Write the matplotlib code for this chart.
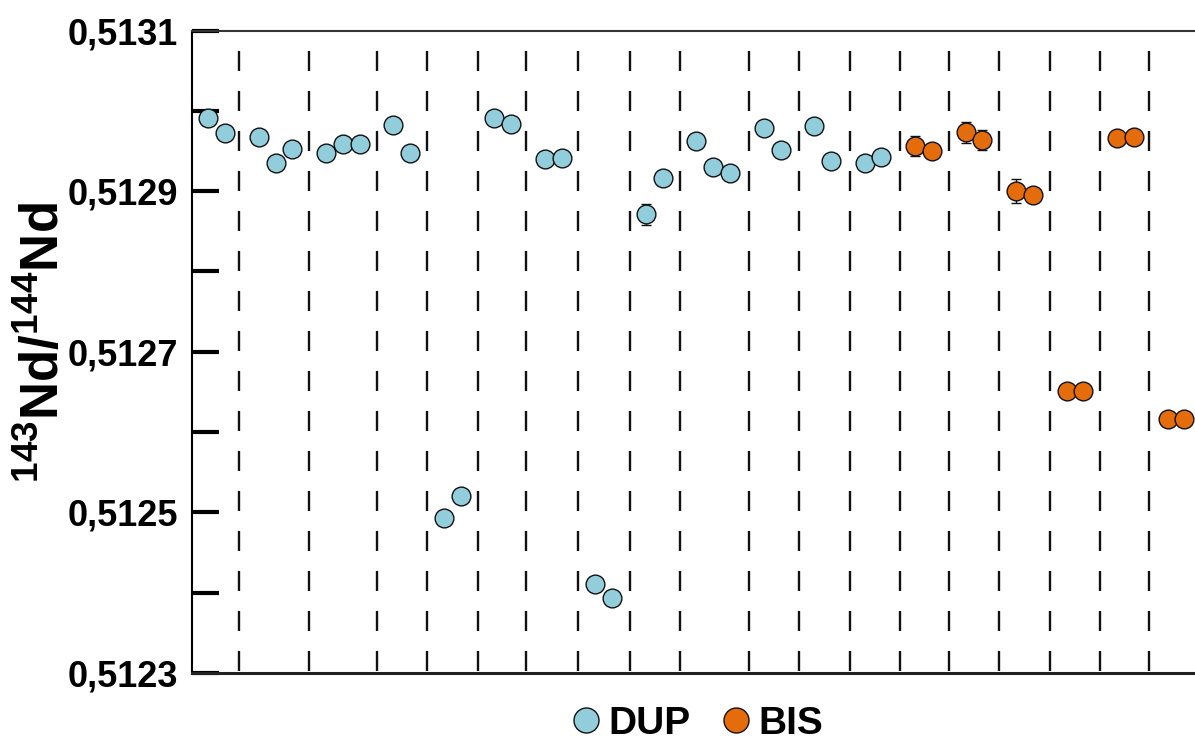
import matplotlib
matplotlib.use("Agg")
import matplotlib.pyplot as plt
from matplotlib.lines import Line2D

plt.rcParams['font.family'] = ['Liberation Sans', 'DejaVu Sans']
plt.rcParams['font.weight'] = 'bold'
plt.rcParams['mathtext.fontset'] = 'custom'
plt.rcParams['mathtext.rm'] = 'Liberation Sans:bold'
plt.rcParams['mathtext.bf'] = 'Liberation Sans:bold'
plt.rcParams['mathtext.default'] = 'bf'
plt.rcParams['lines.scale_dashes'] = False

# ---------------- data ----------------
dup_x = [0, 1, 3, 4, 5, 7, 8, 9, 11, 12, 14, 15, 17, 18, 20, 21, 23, 24,
         26, 27, 29, 30, 31, 33, 34, 36, 37, 39, 40]
dup_y = [0.512991, 0.512972, 0.512968, 0.512935, 0.512952, 0.512948, 0.512959,
         0.512959, 0.512982, 0.512948, 0.512493, 0.512520, 0.512991, 0.512984,
         0.512940, 0.512941, 0.512411, 0.512393, 0.512871, 0.512916, 0.512963,
         0.512930, 0.512922, 0.512978, 0.512951, 0.512981, 0.512938, 0.512935,
         0.512942]
dup_err = [0.000006, 0.000006, 0.000006, 0.000006, 0.000006, 0.000006, 0.000006,
           0.000006, 0.000006, 0.000006, 0.000006, 0.000006, 0.000006, 0.000006,
           0.000006, 0.000006, 0.000006, 0.000006, 0.0000128, 0.000006, 0.000006,
           0.000006, 0.000006, 0.000006, 0.000006, 0.000006, 0.000006, 0.000006,
           0.000006]

bis_x = [42, 43, 45, 46, 48, 49, 51, 52, 54, 55, 57, 58]
bis_y = [0.512956, 0.512950, 0.512973, 0.512964, 0.512900, 0.512895,
         0.512651, 0.512651, 0.512966, 0.512968, 0.512616, 0.512616]
bis_err = [0.0000125, 0.000006, 0.000013, 0.0000125, 0.000015, 0.000006,
           0.000006, 0.000006, 0.000006, 0.000006, 0.000006, 0.000006]

separators = [1.8, 6.0, 10.0, 13.0, 16.0, 18.9, 21.95, 25.05, 28.05, 32.1,
              35.1, 38.1, 41.1, 44.0, 47.0, 50.0, 53.0, 55.9]

ytick_major = [0.5123, 0.5125, 0.5127, 0.5129, 0.5131]
ytick_labels = ['0,5123', '0,5125', '0,5127', '0,5129', '0,5131']
ytick_minor = [0.5124, 0.5126, 0.5128, 0.5130]

series_names = ['DUP', 'BIS']
dup_color = '#92CDDC'
bis_color = '#E46C0A'

# ---------------- figure ----------------
W, H = 1195, 741
fig = plt.figure(figsize=(W / 100, H / 100), dpi=100)
ax = fig.add_axes([192 / W, (H - 673) / H, 1 - 192 / W, (673 - 30.5) / H])

ymin, ymax = 0.5123, 0.5131
ax.set_ylim(ymin, ymax)
ax.set_xlim(-0.97, 58.63)

# dashed separators
for s in separators:
    ax.plot([s, s], [ymax, ymin], color='#111111', lw=1.7,
            linestyle=(14.4, (14.4, 14.4)), zorder=1, dash_capstyle='butt')

ms = 13.5
ax.errorbar(dup_x, dup_y, yerr=dup_err, fmt='o', ms=ms, mfc=dup_color,
            mec='#111111', mew=1.0, ecolor='#111111', elinewidth=1.0,
            capsize=3.6, capthick=1.0, zorder=3)
ax.errorbar(bis_x, bis_y, yerr=bis_err, fmt='o', ms=ms, mfc=bis_color,
            mec='#111111', mew=1.0, ecolor='#111111', elinewidth=1.0,
            capsize=3.6, capthick=1.0, zorder=3)

# axes styling
ax.spines['right'].set_visible(False)
ax.spines['left'].set_linewidth(1.5)
ax.spines['left'].set_color('#000000')
ax.spines['top'].set_linewidth(1.5)
ax.spines['top'].set_color('#333333')
ax.spines['bottom'].set_linewidth(2.2)
ax.spines['bottom'].set_color('#222222')

ax.set_xticks([])
ax.set_yticks(ytick_major)
ax.set_yticklabels(ytick_labels)
ax.set_yticks(ytick_minor, minor=True)
ax.tick_params(axis='y', which='both', direction='in', length=19.5, width=3.0,
               color='#000000', pad=10)
ax.tick_params(axis='y', which='major', labelsize=26)
for lab in ax.get_yticklabels():
    lab.set_fontweight('bold')

fig.text(44 / W, 1 - 343 / H, r'$^{143}$Nd/$^{144}$Nd', rotation=90,
         ha='center', va='center', fontsize=38, fontweight='bold')

handles = [Line2D([], [], ls='none', marker='o', ms=18, mfc=dup_color,
                  mec='#111111', mew=1.0),
           Line2D([], [], ls='none', marker='o', ms=18, mfc=bis_color,
                  mec='#111111', mew=1.0)]
leg = fig.legend(handles=handles, labels=series_names, loc='center',
                 bbox_to_anchor=(698 / W, 1 - 724 / H), ncol=2, frameon=False,
                 handlelength=0.65, handletextpad=0.25, columnspacing=0.85,
                 prop={'size': 28, 'weight': 'bold'},
                 borderpad=0, borderaxespad=0)

fig.savefig('out.png', dpi=100)
